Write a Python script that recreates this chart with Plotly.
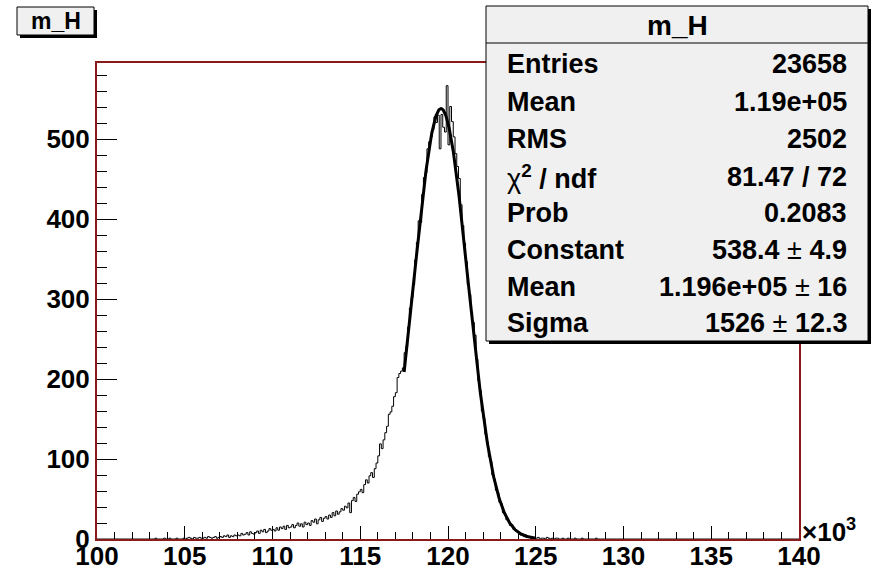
import numpy as np
import plotly.graph_objects as go

# ---- histogram m_H : 400 bins of width 100 between 100000 and 140000 ----
x_min, x_max, n_bins = 100000.0, 140000.0, 400

counts = (
    [0] * 30 +                                                   # 100.0 - 103.0
    [0, 0, 0, 1, 0, 0, 0, 0, 1, 0] +                             # 103
    [0, 1, 0, 0, 0, 1, 0, 0, 0, 1] +                             # 104
    [0, 1, 2, 1, 0, 2, 1, 1, 2, 1] +                             # 105
    [1, 2, 1, 3, 2, 1, 2, 3, 1, 2] +                             # 106
    [3, 2, 4, 3, 5, 2, 4, 3, 5, 4] +                             # 107
    [5, 4, 7, 5, 6, 8, 5, 9, 7, 6] +                             # 108
    [8, 10, 7, 11, 9, 12, 8, 10, 13, 11] +                       # 109
    [12, 10, 14, 11, 15, 13, 16, 12, 17, 14] +                   # 110
    [15, 18, 14, 17, 20, 16, 19, 15, 21, 18] +                   # 111
    [20, 17, 23, 21, 25, 19, 24, 27, 22, 26] +                   # 112
    [28, 25, 30, 27, 33, 29, 35, 31, 34, 38] +                   # 113
    [36, 41, 39, 45, 33, 48, 52, 47, 56, 59] +                   # 114
    [62, 58, 68, 74, 70, 79, 83, 77, 88, 95] +                   # 115
    [104, 119, 113, 124, 133, 141, 156, 159, 166, 178] +         # 116
    [183, 202, 207, 210, 214, 233, 241, 265, 289, 302] +         # 117
    [318, 349, 371, 398, 396, 431, 452, 458, 488, 497] +         # 118
    [503, 512, 528, 521, 530, 488, 531, 515, 509, 567] +         # 119
    [493, 541, 522, 503, 482, 466, 451, 418, 392, 370] +         # 120
    [347, 318, 306, 284, 271, 255, 225, 198, 186, 160] +         # 121
    [151, 131, 121, 103, 97, 80, 75, 61, 58, 46] +               # 122
    [44, 33, 32, 24, 23, 17, 18, 12, 11, 10] +                   # 123
    [8, 5, 6, 3, 5, 2, 3, 1, 2, 1] +                             # 124
    [1, 2, 0, 1, 1, 0, 2, 1, 0, 1] +                             # 125
    [0, 1, 1, 0, 0, 1, 0, 0, 1, 0] +                             # 126
    [0, 0, 1, 0, 0, 0, 1, 0, 0, 0] +                             # 127
    [0, 0, 0, 0, 1, 0, 0, 0, 0, 0] +                             # 128
    [0] * 110                                                    # 129.0 - 140.0
)

# ---- gaussian fit result ----
fit_const, fit_mean, fit_sigma = 538.4, 1.196e5, 1526.0
fit_lo, fit_hi = 117500.0, 125000.0

# ---- statistics box ----
stats_title = "m_H"
stat_names = ["<b>Entries</b>", "<b>Mean</b>", "<b>RMS</b>",
              "χ<b><sup>2</sup> / ndf</b>", "<b>Prob</b>",
              "<b>Constant</b>", "<b>Mean</b>", "<b>Sigma</b>"]
stat_values = ["<b>23658</b>", "<b>1.19e+05</b>", "<b>2502</b>",
               "<b>81.47 / 72</b>", "<b>0.2083</b>",
               "<b>538.4</b> ± <b>4.9</b>", "<b>1.196e+05</b> ± <b>16</b>",
               "<b>1526</b> ± <b>12.3</b>"]

# ---- axes ----
x_tick_vals = [100000, 105000, 110000, 115000, 120000, 125000, 130000, 135000, 140000]
x_tick_text = ["100", "105", "110", "115", "120", "125", "130", "135", "140"]
y_tick_vals = [0, 100, 200, 300, 400, 500]

FONT = "Liberation Sans, Arial, Helvetica, sans-serif"
W, H = 877, 571
L, R, T, B = 97, 799, 63, 539   # frame in pixels


def px(x):
    return (x - L) / (R - L)


def py(y):
    return (B - y) / (B - T)


bin_w = (x_max - x_min) / n_bins
edges = x_min + bin_w * np.arange(n_bins + 1)
step_y = list(counts) + [counts[-1]]

fig = go.Figure()

fig.add_trace(go.Scatter(
    x=edges, y=step_y, mode="lines", line_shape="hv",
    line=dict(color="#000000", width=1), hoverinfo="skip", showlegend=False))

fx = np.linspace(fit_lo, fit_hi, 400)
fy = fit_const * np.exp(-0.5 * ((fx - fit_mean) / fit_sigma) ** 2)
fig.add_trace(go.Scatter(
    x=fx, y=fy, mode="lines", line=dict(color="#000000", width=3),
    hoverinfo="skip", showlegend=False))

y_top = 1.05 * max(counts)

axis_common = dict(
    showgrid=False, zeroline=False, showline=True, mirror=True,
    linecolor="#8b1a1a", linewidth=2, ticks="inside", tickcolor="#000000",
    tickwidth=1, tickfont=dict(family=FONT, size=26, color="#000000", weight="bold"),
    automargin=False,
)

fig.update_xaxes(
    range=[x_min, x_max], tickmode="array", tickvals=x_tick_vals,
    ticktext=x_tick_text, ticklen=13, ticklabelstandoff=-7,
    minor=dict(dtick=1000, ticklen=7, ticks="inside", tickcolor="#000000"),
    **axis_common)
fig.update_yaxes(
    range=[0, y_top], tickmode="array", tickvals=y_tick_vals, ticklen=20,
    minor=dict(dtick=20, ticklen=10, ticks="inside", tickcolor="#000000"),
    **axis_common)

shapes = []
annotations = []


def box(x0, y0, x1, y1, shadow=3):
    shapes.append(dict(type="rect", xref="paper", yref="paper",
                       x0=px(x0 + shadow), x1=px(x1 + shadow),
                       y0=py(y1 + shadow), y1=py(y0 + shadow),
                       fillcolor="#000000", line=dict(width=0), layer="above"))
    shapes.append(dict(type="rect", xref="paper", yref="paper",
                       x0=px(x0), x1=px(x1), y0=py(y1), y1=py(y0),
                       fillcolor="#f0f0f0", line=dict(color="#000000", width=1),
                       layer="above"))


# title box
box(17, 7, 94, 35)
annotations.append(dict(xref="paper", yref="paper", x=px(55.5), y=py(21),
                        text="<b>m_H</b>", showarrow=False, xanchor="center",
                        yanchor="middle", font=dict(family=FONT, size=23, color="#000")))

# statistics box
box(486, 6, 868, 341)
shapes.append(dict(type="line", xref="paper", yref="paper",
                   x0=px(486), x1=px(868), y0=py(43), y1=py(43),
                   line=dict(color="#000000", width=1), layer="above"))
annotations.append(dict(xref="paper", yref="paper", x=px(677), y=py(25),
                        text="<b>" + stats_title + "</b>", showarrow=False,
                        xanchor="center", yanchor="middle",
                        font=dict(family=FONT, size=28, color="#000")))
row_y = [64, 102, 139, 177, 213, 250, 287, 323]
for name, val, yy in zip(stat_names, stat_values, row_y):
    annotations.append(dict(xref="paper", yref="paper", x=px(505), y=py(yy),
                            text=name, showarrow=False,
                            xanchor="left", yanchor="middle",
                            font=dict(family=FONT, size=27, color="#000")))
    annotations.append(dict(xref="paper", yref="paper", x=px(849), y=py(yy),
                            text=val, showarrow=False,
                            xanchor="right", yanchor="middle",
                            font=dict(family=FONT, size=27, color="#000")))

# axis exponent
annotations.append(dict(xref="paper", yref="paper", x=px(800), y=py(530),
                        text="<b>×10<sup>3</sup></b>", showarrow=False,
                        xanchor="left", yanchor="middle",
                        font=dict(family=FONT, size=26, color="#000")))

fig.update_layout(
    width=W, height=H,
    margin=dict(l=L, r=W - R, t=T, b=H - B, pad=0),
    paper_bgcolor="#ffffff", plot_bgcolor="#ffffff",
    shapes=shapes, annotations=annotations, showlegend=False,
)

fig.write_html("out.html")
